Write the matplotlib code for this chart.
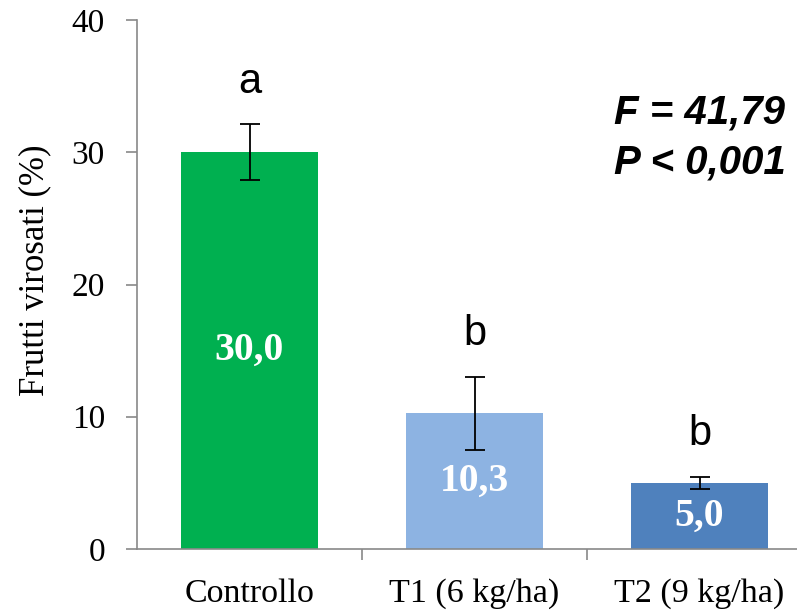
"""Bar chart of virus-infected fruits per treatment."""

from matplotlib import pyplot
import numpy


# Data.
categories = ['Controllo', 'T1 (6 kg/ha)', 'T2 (9 kg/ha)']
values = [30.0, 10.3, 5.0]
err_low = [2.1, 2.8, 0.45]  # distance from bar top to lower cap
err_high = [2.1, 2.7, 0.45]  # distance from bar top to upper cap
value_labels = ['30,0', '10,3', '5,0']
letters = ['a', 'b', 'b']
stats_lines = ['F = 41,79', 'P < 0,001']
colors = ['#00B050', '#8DB3E2', '#4F81BD']

grey = '#898989'

fig = pyplot.figure(figsize=(7.97, 6.11), dpi=100)
# Plot area runs past the right edge of the figure, as in the original.
ax = fig.add_axes([137 / 797, 1 - 549 / 611, 675 / 797, 529 / 611])

x = numpy.arange(len(categories))
ax.bar(x, values, width=0.605, color=colors, zorder=2)
ax.errorbar(x, values, yerr=[err_low, err_high], fmt='none',
            ecolor='black', elinewidth=1.3, capsize=7.5, capthick=1.3,
            zorder=3)

# Values inside the bars.
for xi, v, lab in zip(x, values, value_labels):
    ax.text(xi, v / 2, lab, ha='center', va='center', color='white',
            fontsize=28.5, fontweight='bold', family='Liberation Serif')

# Significance letters above the error bars.
for xi, v, eh, lab in zip(x, values, err_high, letters):
    ax.annotate(lab, (xi, v + eh), xytext=(0, 23), textcoords='offset points',
                ha='center', va='baseline', fontsize=30,
                family='Liberation Sans')

# Statistics in the upper right corner.
for i, line in enumerate(stats_lines):
    fig.text(700 / 797, 1 - (112 + 50 * i) / 611, line, ha='center',
             va='center', fontsize=29, fontweight='bold', fontstyle='italic',
             family='Liberation Sans')

ax.set_xlim(-0.5, 2.5)
ax.set_ylim(0, 40)
ax.set_yticks([0, 10, 20, 30, 40])
ax.set_xticks(x)
ax.set_xticklabels(categories)
ax.set_xticks([0.5, 1.5], minor=True)
ax.tick_params(axis='x', which='major', length=0, pad=21)
ax.tick_params(axis='x', which='minor', length=8, width=1.2, color=grey)
ax.tick_params(axis='y', length=8, width=1.2, color=grey, pad=15)
for lab in ax.get_xticklabels():
    lab.set_family('Liberation Serif')
    lab.set_fontsize(24.5)
for lab in ax.get_yticklabels():
    lab.set_family('Liberation Serif')
    lab.set_fontsize(24)

ax.set_ylabel('Frutti virosati (%)', family='Liberation Serif', fontsize=25)
ax.yaxis.set_label_coords(-0.127, 0.526)

ax.spines['top'].set_visible(False)
ax.spines['right'].set_visible(False)
for side in ('left', 'bottom'):
    ax.spines[side].set_color(grey)
    ax.spines[side].set_linewidth(1.2)

fig.savefig('out.png', dpi=100)
